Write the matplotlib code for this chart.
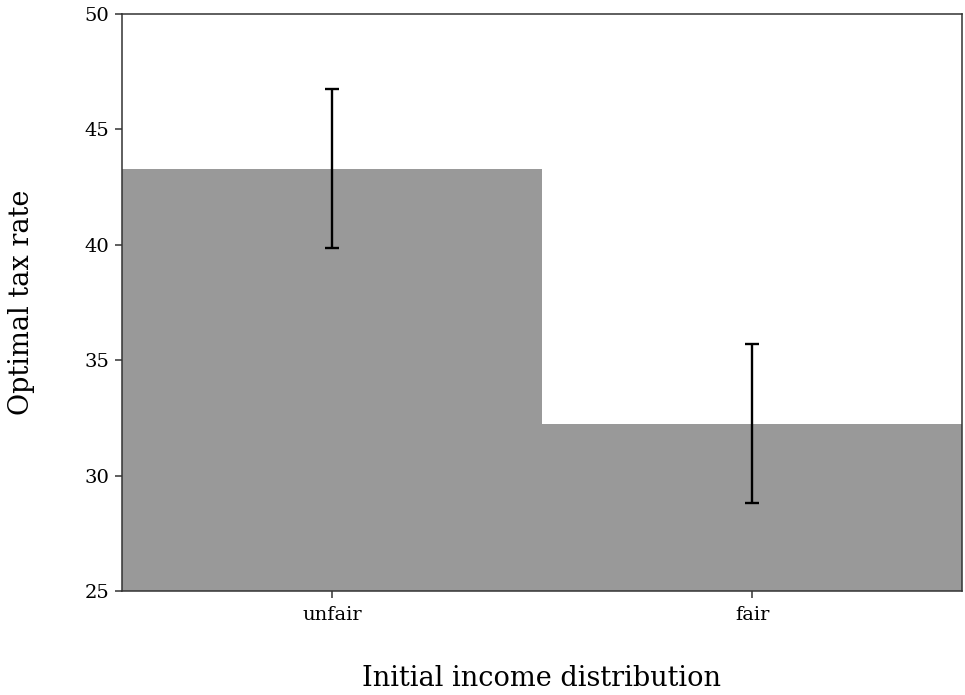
import matplotlib
matplotlib.use("Agg")
import matplotlib.pyplot as plt

categories = ["unfair", "fair"]
means = [43.28, 32.24]
ci_low = [39.87, 28.82]
ci_high = [46.76, 35.70]

plt.rcParams["font.family"] = "DejaVu Serif"

fig = plt.figure(figsize=(9.65, 6.95), dpi=100)
ax = fig.add_axes([122 / 965, 1 - 591 / 695, 840 / 965, 577 / 695])

x = list(range(len(categories)))
ax.bar(x, [m - 25 for m in means], bottom=25, width=1.0, color="#999999", zorder=1)

yerr = [[m - lo for m, lo in zip(means, ci_low)], [hi - m for m, hi in zip(means, ci_high)]]
ax.errorbar(x, means, yerr=yerr, fmt="none", ecolor="black", elinewidth=1.7,
            capsize=4.7, capthick=1.7, zorder=3)

ax.set_xlim(-0.5, 1.5)
ax.set_ylim(25, 50)
ax.set_yticks([25, 30, 35, 40, 45, 50])
ax.set_xticks(x)
ax.set_xticklabels(categories)

for s in ax.spines.values():
    s.set_color("#333333")
    s.set_linewidth(1.1)

ax.tick_params(axis="both", length=5, width=1.1, color="#333333", labelsize=14, pad=4)
ax.tick_params(axis="x", pad=6)

ax.set_xlabel("Initial income distribution", fontsize=19.5, labelpad=29)
ax.set_ylabel("Optimal tax rate", fontsize=19.5, labelpad=36)

fig.savefig("out.png", dpi=100)
